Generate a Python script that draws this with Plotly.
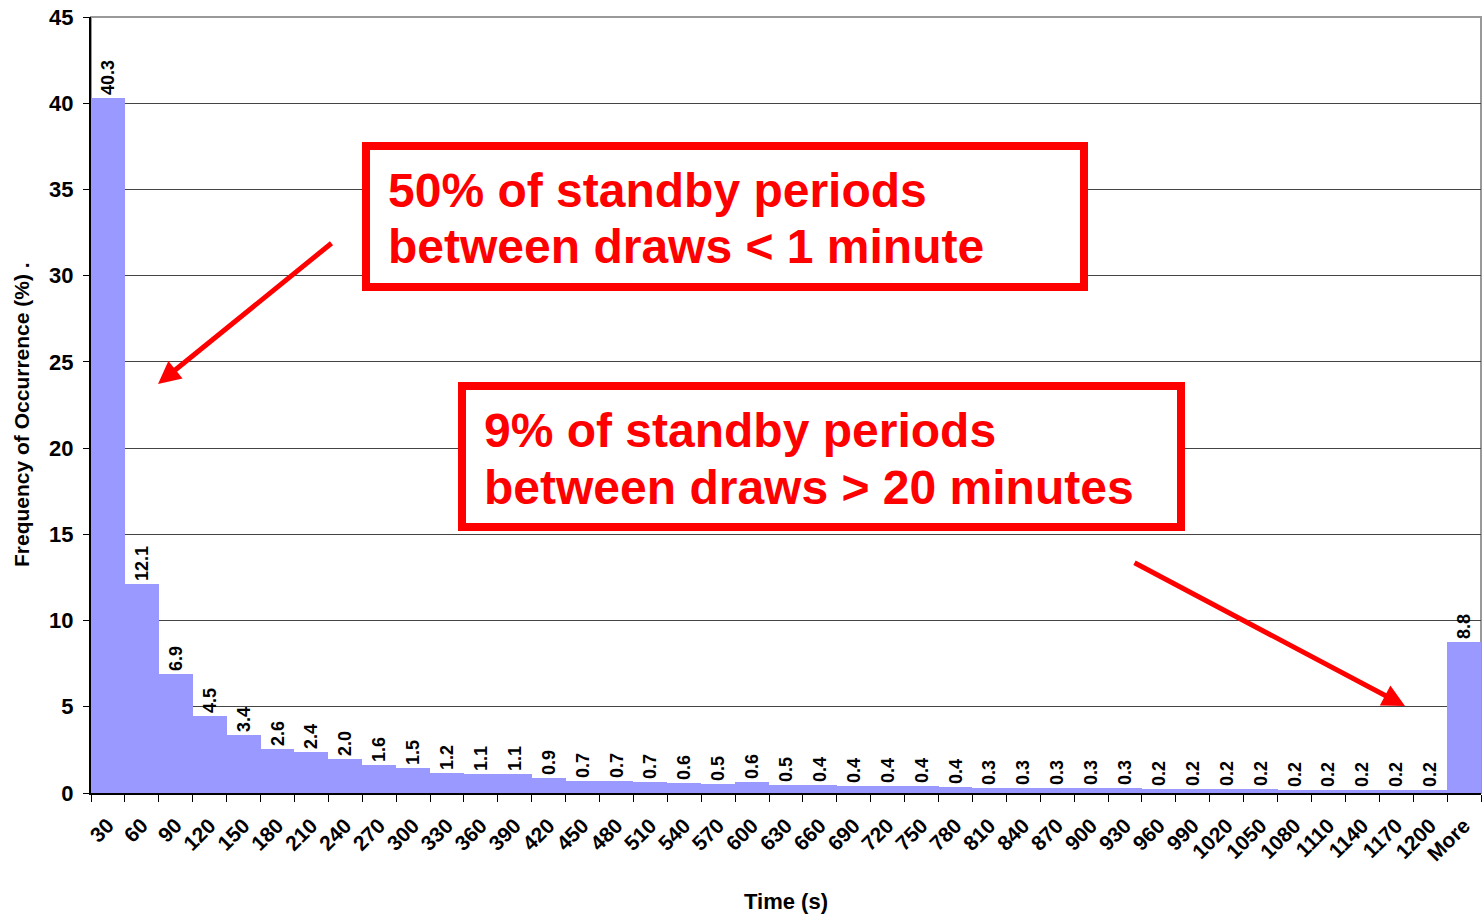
import plotly.graph_objects as go

# ---- data ----
time_bins = [str(v) for v in range(30, 1201, 30)] + ["More"]
frequency = [40.3, 12.1, 6.9, 4.46, 3.38, 2.57, 2.38, 1.97, 1.62, 1.46,
             1.18, 1.1, 1.1, 0.87, 0.71, 0.7, 0.66, 0.56, 0.53, 0.64,
             0.48, 0.44, 0.42, 0.42, 0.42, 0.36, 0.31, 0.31, 0.31, 0.29,
             0.29, 0.24, 0.24, 0.24, 0.24, 0.16, 0.16, 0.16, 0.16, 0.16,
             8.76]
y_ticks = [0, 5, 10, 15, 20, 25, 30, 35, 40, 45]

W, H = 1484, 914
L, R, T, B = 91, 1481, 17, 793


def px(x):
    return (x - L) / (R - L)


def py(y):
    return (B - y) / (B - T)


FONT = "Liberation Sans, Arial, sans-serif"

fig = go.Figure()
fig.add_trace(go.Bar(
    x=time_bins, y=frequency,
    marker=dict(color="#9999FF", line=dict(width=0)),
    texttemplate="%{y:.1f}", textposition="outside", textangle=-90,
    textfont=dict(family=FONT, size=18, color="black", weight="bold"),
    constraintext="none", cliponaxis=False, hoverinfo="x+y",
))

shapes = [
    # plot border (top/right gray)
    dict(type="rect", xref="paper", yref="paper", x0=0, x1=1, y0=0, y1=1,
         line=dict(color="#999999", width=2), layer="below"),
    # red boxes
    dict(type="rect", xref="paper", yref="paper",
         x0=px(366), x1=px(1084), y0=py(146), y1=py(287),
         line=dict(color="#FF0000", width=8), fillcolor="white", layer="above"),
    dict(type="rect", xref="paper", yref="paper",
         x0=px(462), x1=px(1181), y0=py(386), y1=py(527),
         line=dict(color="#FF0000", width=8), fillcolor="white", layer="above"),
]

ann_font = dict(family=FONT, size=48, color="#FF0000", weight="bold")
annotations = []
for text, x0, yc in [
    ("50% of standby periods", 386, 190),
    ("between draws &lt; 1 minute", 386, 247),
    ("9% of standby periods", 482, 430),
    ("between draws &gt; 20 minutes", 482, 487),
]:
    annotations.append(dict(xref="paper", yref="paper", x=px(x0), y=py(yc),
                            xanchor="left", yanchor="middle", text=text,
                            showarrow=False, font=ann_font))

for (hx, hy, tx, ty) in [(158, 384, 333, 242), (1405, 706, 1133, 562)]:
    annotations.append(dict(xref="paper", yref="paper", x=px(hx), y=py(hy),
                            ax=tx - hx, ay=ty - hy, text="", showarrow=True,
                            arrowhead=2, arrowsize=0.9, arrowwidth=5,
                            arrowcolor="#FF0000"))

# y-axis title placed explicitly (reference is slightly off-centre)
annotations.append(dict(xref="paper", yref="paper", x=px(22), y=py(415),
                        xanchor="center", yanchor="middle", textangle=-90,
                        text="Frequency of Occurrence (%) .", showarrow=False,
                        font=dict(family=FONT, size=21, color="black",
                                  weight="bold")))

fig.update_layout(
    width=W, height=H,
    margin=dict(l=L, r=W - R, t=T, b=H - B, autoexpand=False),
    paper_bgcolor="white", plot_bgcolor="white",
    bargap=0, showlegend=False,
    shapes=shapes, annotations=annotations,
    font=dict(family=FONT, color="black"),
    xaxis=dict(
        type="category", tickangle=-45, tickson="boundaries",
        ticks="outside", ticklen=7, tickcolor="black", tickwidth=1,
        showline=True, linecolor="black", linewidth=2,
        showgrid=False, automargin=False, ticklabelstandoff=10,
        tickfont=dict(family=FONT, size=21, color="black", weight="bold"),
        title=dict(text="Time (s)", standoff=30,
                   font=dict(family=FONT, size=22, color="black", weight="bold")),
    ),
    yaxis=dict(
        range=[0, 45], tickvals=y_ticks, ticks="outside", ticklen=6,
        tickcolor="black", showline=True, linecolor="black", linewidth=2,
        showgrid=True, gridcolor="#444444", gridwidth=1, zeroline=False,
        automargin=False, ticklabelstandoff=5,
        tickfont=dict(family=FONT, size=22, color="black", weight="bold"),
    ),
)

fig.write_html("out.html",
               config={"displayModeBar": False},
               post_script="document.body.style.margin='0';"
                           "document.body.style.overflow='hidden';")
